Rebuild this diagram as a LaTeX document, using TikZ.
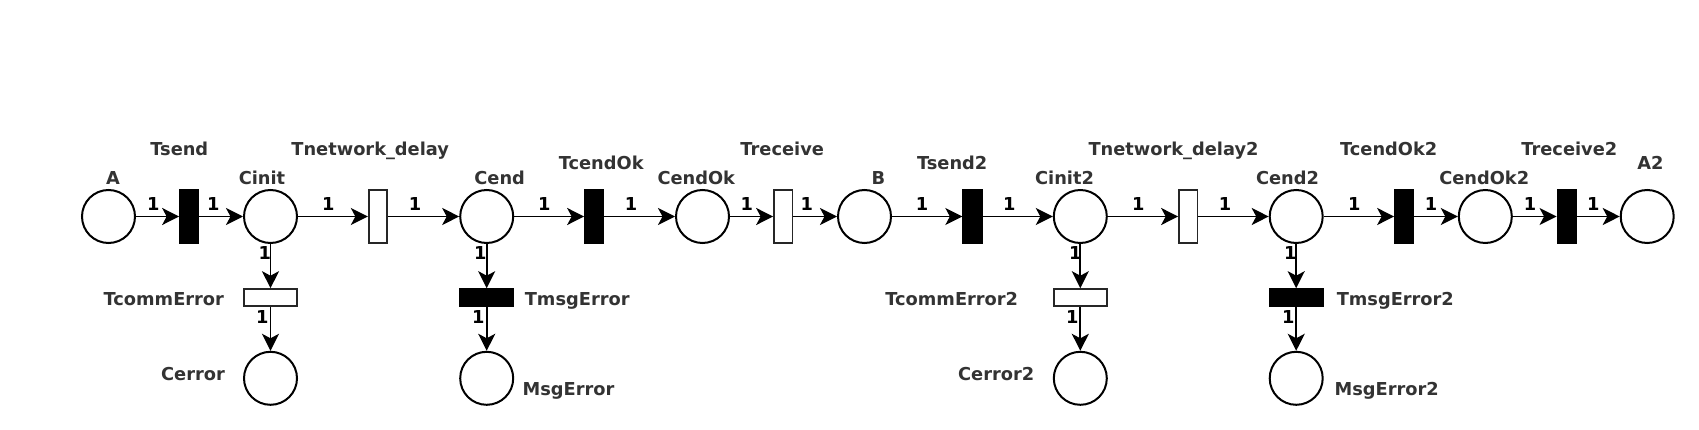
\documentclass[tikz,border=0pt]{standalone}
\usepackage{fontspec}
\setmainfont{DejaVu Sans}
\usetikzlibrary{arrows.meta}
\definecolor{lblgray}{HTML}{333333}
\begin{document}
\begin{tikzpicture}[x=1pt,y=-1pt,
  place/.style={circle,draw=black,line width=2pt,minimum size=53pt,inner sep=0pt,fill=white},
  vtrans/.style={rectangle,draw=black,line width=1.8pt,minimum width=18.5pt,minimum height=53.5pt,inner sep=0pt},
  htrans/.style={rectangle,draw=black,line width=1.8pt,minimum width=53pt,minimum height=16.8pt,inner sep=0pt},
  full/.style={fill=black},
  empty/.style={fill=white,draw=black!85},
  arc/.style={line width=1.9pt,-{Stealth[length=17pt,width=17pt,inset=4.5pt]}},
  lbl/.style={anchor=base,inner sep=0pt,text=lblgray,font=\fontsize{17.8}{20}\selectfont\bfseries},
  wt/.style={anchor=base,inner sep=0pt,text=black,font=\fontsize{17.8}{20}\selectfont\bfseries}]
\useasboundingbox (0,0) rectangle (1699,430);
% main row
\node[place] (A) at (108.5,216.5) {};
\node[vtrans,full] (Tsend) at (189.3,216.5) {};
\node[place] (Cinit) at (270.5,216.5) {};
\node[vtrans,empty] (Tnet) at (378,216.5) {};
\node[place] (Cend) at (486.7,216.5) {};
\node[vtrans,full] (TcendOk) at (594.3,216.5) {};
\node[place] (CendOk) at (702.5,216.5) {};
\node[vtrans,empty] (Treceive) at (783.3,216.5) {};
\node[place] (B) at (864.5,216.5) {};
\node[vtrans,full] (Tsend2) at (972.5,216.5) {};
\node[place] (Cinit2) at (1080.3,216.5) {};
\node[vtrans,empty] (Tnet2) at (1188.3,216.5) {};
\node[place] (Cend2) at (1296.2,216.5) {};
\node[vtrans,full] (TcendOk2) at (1404.3,216.5) {};
\node[place] (CendOk2) at (1485.3,216.5) {};
\node[vtrans,full] (Treceive2) at (1566.7,216.5) {};
\node[place] (A2) at (1647.2,216.5) {};
% error branches
\node[htrans,empty] (TcommError) at (270.5,297.5) {};
\node[place] (Cerror) at (270.5,378.3) {};
\node[htrans,full] (TmsgError) at (486.7,297.5) {};
\node[place] (MsgError) at (486.7,378.3) {};
\node[htrans,empty] (TcommError2) at (1080.3,297.5) {};
\node[place] (Cerror2) at (1080.3,378.3) {};
\node[htrans,full] (TmsgError2) at (1296.2,297.5) {};
\node[place] (MsgError2) at (1296.2,378.3) {};
% arcs
\draw[arc] (A) -- (Tsend);
\draw[arc] (Tsend) -- (Cinit);
\draw[arc] (Cinit) -- (Tnet);
\draw[arc] (Tnet) -- (Cend);
\draw[arc] (Cend) -- (TcendOk);
\draw[arc] (TcendOk) -- (CendOk);
\draw[arc] (CendOk) -- (Treceive);
\draw[arc] (Treceive) -- (B);
\draw[arc] (B) -- (Tsend2);
\draw[arc] (Tsend2) -- (Cinit2);
\draw[arc] (Cinit2) -- (Tnet2);
\draw[arc] (Tnet2) -- (Cend2);
\draw[arc] (Cend2) -- (TcendOk2);
\draw[arc] (TcendOk2) -- (CendOk2);
\draw[arc] (CendOk2) -- (Treceive2);
\draw[arc] (Treceive2) -- (A2);
\draw[arc] (Cinit) -- (TcommError);
\draw[arc] (TcommError) -- (Cerror);
\draw[arc] (Cend) -- (TmsgError);
\draw[arc] (TmsgError) -- (MsgError);
\draw[arc] (Cinit2) -- (TcommError2);
\draw[arc] (TcommError2) -- (Cerror2);
\draw[arc] (Cend2) -- (TmsgError2);
\draw[arc] (TmsgError2) -- (MsgError2);
% node labels
\node[lbl] (lA) at (113,185) {A};
\node[lbl] (lTsend) at (179.3,155.7) {Tsend};
\node[lbl] (lCinit) at (262,185) {Cinit};
\node[lbl] (lTnet) at (370.2,155.7) {Tnetwork\_delay};
\node[lbl] (lCend) at (499.7,185) {Cend};
\node[lbl] (lTcendOk) at (601.2,170) {TcendOk};
\node[lbl] (lCendOk) at (696.3,185) {CendOk};
\node[lbl] (lTreceive) at (782.2,155.7) {Treceive};
\node[lbl] (lB) at (878.5,185) {B};
\node[lbl] (lTsend2) at (952.2,170) {Tsend2};
\node[lbl] (lCinit2) at (1064.5,185) {Cinit2};
\node[lbl] (lTnet2) at (1173.5,155.7) {Tnetwork\_delay2};
\node[lbl] (lCend2) at (1287.5,185) {Cend2};
\node[lbl] (lTcendOk2) at (1388.7,155.7) {TcendOk2};
\node[lbl] (lCendOk2) at (1484.2,185) {CendOk2};
\node[lbl] (lTreceive2) at (1569.3,155.7) {Treceive2};
\node[lbl] (lA2) at (1650.5,170) {A2};
\node[lbl] (lTcommError) at (163.8,305.7) {TcommError};
\node[lbl] (lCerror) at (193,380) {Cerror};
\node[lbl] (lTmsgError) at (577.2,305.7) {TmsgError};
\node[lbl] (lMsgError) at (568.5,395.7) {MsgError};
\node[lbl] (lTcommError2) at (951.7,305.7) {TcommError2};
\node[lbl] (lCerror2) at (996.2,380) {Cerror2};
\node[lbl] (lTmsgError2) at (1395.3,305.7) {TmsgError2};
\node[lbl] (lMsgError2) at (1386.7,395.7) {MsgError2};
% arc weights
\node[wt] (w1) at (153.3,211) {1};
\node[wt] (w2) at (213.3,211) {1};
\node[wt] (w3) at (328.3,211) {1};
\node[wt] (w4) at (415,211) {1};
\node[wt] (w5) at (544.3,211) {1};
\node[wt] (w6) at (631,211) {1};
\node[wt] (w7) at (746.7,211) {1};
\node[wt] (w8) at (806.7,211) {1};
\node[wt] (w9) at (922,211) {1};
\node[wt] (w10) at (1009.3,211) {1};
\node[wt] (w11) at (1138.3,211) {1};
\node[wt] (w12) at (1225,211) {1};
\node[wt] (w13) at (1354.3,211) {1};
\node[wt] (w14) at (1431,211) {1};
\node[wt] (w15) at (1530,211) {1};
\node[wt] (w16) at (1593.3,211) {1};
\node[wt] (w17) at (264.7,260) {1};
\node[wt] (w18) at (262.3,323.3) {1};
\node[wt] (w19) at (480.3,260) {1};
\node[wt] (w20) at (478.3,323.3) {1};
\node[wt] (w21) at (1075.3,260) {1};
\node[wt] (w22) at (1072.3,323.3) {1};
\node[wt] (w23) at (1290.3,260) {1};
\node[wt] (w24) at (1288.3,323.3) {1};
\end{tikzpicture}
\end{document}
